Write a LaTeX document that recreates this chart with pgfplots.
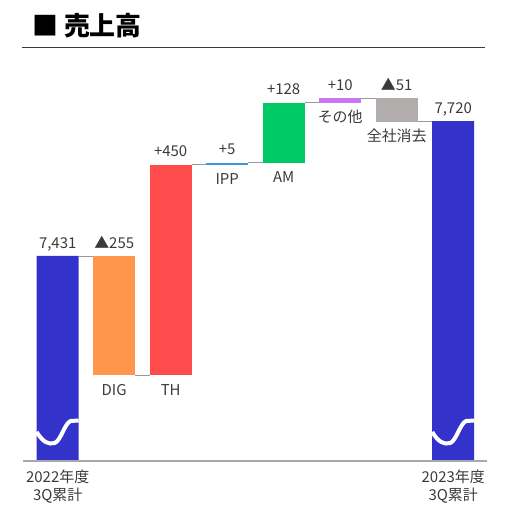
\documentclass[border=0pt]{standalone}
\usepackage{fontspec}
\setmainfont{Noto Sans CJK JP}
\usepackage{pgfplots}
\pgfplotsset{compat=1.18}
\usepackage{pgfplotstable}

\definecolor{barblue}{HTML}{3333CC}
\definecolor{digorange}{HTML}{FF964B}
\definecolor{thred}{HTML}{FF4B4B}
\definecolor{ippblue}{HTML}{3C9BE0}
\definecolor{amgreen}{HTML}{00C864}
\definecolor{otherpurple}{HTML}{C878F0}
\definecolor{elimgray}{HTML}{B1ADAD}
\definecolor{conngray}{HTML}{9A9A9A}
\definecolor{basegray}{HTML}{A8A8B0}
\definecolor{txt}{HTML}{3A3A3A}

% waterfall steps: invisible base + one visible column per colour
\pgfplotstableread{
x base total dig th ipp am other elim
0 0    7431 0   0   0 0   0  0
1 7176 0    255 0   0 0   0  0
2 7176 0    0   450 0 0   0  0
3 7626 0    0   0   5 0   0  0
4 7631 0    0   0   0 128 0  0
5 7759 0    0   0   0 0   10 0
6 7718 0    0   0   0 0   0  51
7 0    7720 0   0   0 0   0  0
}\steps

\newcommand{\lab}{\fontsize{15}{18}\selectfont}

\begin{document}
\begin{tikzpicture}
\useasboundingbox (-23bp,-57bp) rectangle (483bp,461bp);

% title with rule
\node[anchor=base west, inner sep=0pt, font=\fontsize{26}{30}\selectfont\bfseries]
  at (9bp,425bp) {■ 売上高};
\draw[line width=1.5bp, color=txt] (-1bp,413.5bp) -- (462bp,413.5bp);

\begin{axis}[
  at={(0,0)}, anchor=south west,
  scale only axis,
  width=464bp, height=377.3bp,
  xmin=-0.614, xmax=7.598,
  ymin=6992, ymax=7800,
  hide axis,
  ybar stacked,
  bar width=42bp,
]
\addplot[draw=none, fill=none] table[x=x, y=base] {\steps};
\addplot[draw=none, fill=barblue] table[x=x, y=total] {\steps};
\addplot[draw=none, fill=digorange] table[x=x, y=dig] {\steps};
\addplot[draw=none, fill=thred] table[x=x, y=th] {\steps};
\addplot[draw=none, fill=ippblue] table[x=x, y=ipp] {\steps};
\addplot[draw=none, fill=amgreen] table[x=x, y=am] {\steps};
\addplot[draw=none, fill=otherpurple] table[x=x, y=other] {\steps};
\addplot[draw=none, fill=elimgray] table[x=x, y=elim] {\steps};

% connectors between consecutive steps
\draw[conngray, line width=0.9bp] (axis cs:0.372,7431) -- (axis cs:0.628,7431);
\draw[conngray, line width=0.9bp] (axis cs:1.372,7176) -- (axis cs:1.628,7176);
\draw[conngray, line width=0.9bp] (axis cs:2.372,7626) -- (axis cs:2.628,7626);
\draw[conngray, line width=0.9bp] (axis cs:3.372,7631) -- (axis cs:3.628,7631);
\draw[conngray, line width=0.9bp] (axis cs:4.372,7759) -- (axis cs:4.628,7759);
\draw[conngray, line width=0.9bp] (axis cs:5.372,7769) -- (axis cs:5.628,7769);
\draw[conngray, line width=0.9bp] (axis cs:6.372,7720) -- (axis cs:6.628,7720);

% anchor points for the annotations
\coordinate (t0) at (axis cs:0,7431);
\coordinate (t1) at (axis cs:1,7431);
\coordinate (t2) at (axis cs:2,7626);
\coordinate (t3) at (axis cs:3,7631);
\coordinate (t4) at (axis cs:4,7759);
\coordinate (t5) at (axis cs:5,7769);
\coordinate (t6) at (axis cs:6,7769);
\coordinate (t7) at (axis cs:7,7720);
\coordinate (u1) at (axis cs:1,7176);
\coordinate (u2) at (axis cs:2,7176);
\coordinate (u3) at (axis cs:3,7626);
\coordinate (u4) at (axis cs:4,7631);
\coordinate (u5) at (axis cs:5,7759);
\coordinate (u6) at (axis cs:6,7718);
\coordinate (b0) at (axis cs:0,6992);
\coordinate (b7) at (axis cs:7,6992);
\coordinate (bl) at (axis cs:-0.614,6992);
\coordinate (br) at (axis cs:7.598,6992);
\end{axis}

% baseline
\draw[basegray, line width=1.3bp] (bl) -- (br);

% value labels
\begin{scope}[every node/.style={anchor=base, inner sep=0pt, text=txt, font=\lab, yshift=8bp}]
\node at (t0) {7,431};
\node at (t1) {▲255};
\node at (t2) {+450};
\node at (t3) {+5};
\node at (t4) {+128};
\node at (t5) {+10};
\node at (t6) {▲51};
\node at (t7) {7,720};
\end{scope}

% category labels under the steps
\begin{scope}[every node/.style={anchor=base, inner sep=0pt, text=txt, font=\lab, yshift=-20bp}]
\node at (u1) {DIG};
\node at (u2) {TH};
\node at (u3) {IPP};
\node at (u4) {AM};
\node at (u5) {その他};
\node at (u6) {全社消去};
\end{scope}

% period labels
\begin{scope}[every node/.style={anchor=north, inner sep=0pt, text=txt, font=\lab, align=center, yshift=-9bp}]
\node at (b0) {2022年度\\3Q累計};
\node at (b7) {2023年度\\3Q累計};
\end{scope}

% axis-break waves on the total columns
\foreach \c in {b0,b7}{
  \begin{scope}[shift={(\c)}]
  \draw[white, line width=4bp]
    (-21bp,29bp) .. controls (-15bp,19bp) and (-9bp,16bp) .. (-3bp,18bp)
    .. controls (3bp,20bp) and (7bp,38bp) .. (13bp,40bp) -- (21bp,40.5bp);
  \end{scope}
}
\end{tikzpicture}
\end{document}
